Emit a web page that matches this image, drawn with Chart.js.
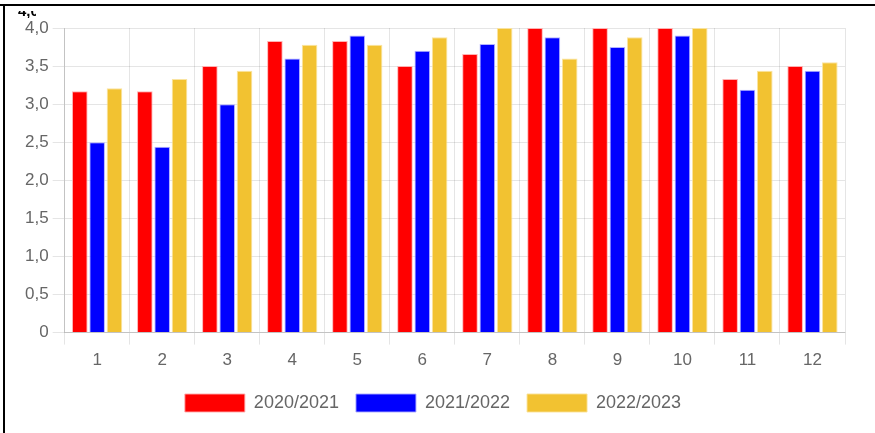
<!DOCTYPE html>
<html>
<head>
<meta charset="utf-8">
<script src="https://cdn.jsdelivr.net/npm/chart.js@4/dist/chart.umd.min.js"></script>
<style>
  html, body { margin: 0; padding: 0; background: #fff; }
  #wrap { position: relative; width: 875px; height: 433px; overflow: hidden; }
  #c { position: absolute; left: 0; top: 0; }
  #topline { position: absolute; left: 0; top: 4px; width: 875px; height: 2px; background: #000; }
  #leftline { position: absolute; left: 3px; top: 4px; width: 2px; height: 429px; background: #000; }
  #cut { position: absolute; left: 18px; top: 11px; height: 7px; width: 18px; overflow: hidden; }
  #cut span { position: absolute; left: 0; top: -10px; font: bold 15px "Liberation Sans", Arial, sans-serif; color: #000; line-height: 20px; }
</style>
</head>
<body>
<div id="wrap">
  <canvas id="c" width="875" height="433"></canvas>
  <div id="topline"></div>
  <div id="leftline"></div>
  <div id="cut"><span>4,0</span></div>
</div>
<script>
const categories = ["1","2","3","4","5","6","7","8","9","10","11","12"];
const seriesNames = ["2020/2021","2021/2022","2022/2023"];
const values2020 = [3.17, 3.17, 3.5, 3.83, 3.83, 3.5, 3.66, 4.0, 4.0, 4.0, 3.33, 3.5];
const values2021 = [2.5, 2.44, 3.0, 3.6, 3.9, 3.7, 3.79, 3.88, 3.75, 3.9, 3.19, 3.44];
const values2022 = [3.21, 3.33, 3.44, 3.78, 3.78, 3.88, 4.0, 3.6, 3.88, 4.0, 3.44, 3.55];
const colors = ["#ff0000", "#0000ff", "#f2c231"];
const borders = ["rgba(255,170,170,0.9)", "rgba(170,170,255,0.9)", "rgba(250,225,150,0.9)"];

const allValues = [values2020, values2021, values2022];
const datasets = seriesNames.map((name, i) => ({
  label: name,
  data: allValues[i],
  backgroundColor: colors[i],
  borderColor: borders[i],
  borderWidth: 1,
  categoryPercentage: 0.8,
  barPercentage: 0.9
}));

const font = { family: "'Liberation Sans', Arial, sans-serif", size: 17 };
const legendFont = { family: "'Liberation Sans', Arial, sans-serif", size: 18 };

new Chart(document.getElementById('c'), {
  type: 'bar',
  data: { labels: categories, datasets },
  options: {
    responsive: false,
    animation: false,
    layout: { padding: { left: 21, right: 30, top: 28, bottom: 11 } },
    plugins: {
      legend: {
        position: 'bottom',
        labels: { boxWidth: 60, boxHeight: 18, padding: 17, font: legendFont, color: '#666' }
      },
      tooltip: { enabled: false }
    },
    scales: {
      x: {
        grid: { color: 'rgba(0,0,0,0.1)', tickLength: 12, offset: true },
        ticks: { font, color: '#666', padding: 6 },
        border: { color: 'rgba(0,0,0,0.15)' }
      },
      y: {
        min: 0, max: 4,
        grid: { color: 'rgba(0,0,0,0.1)', tickLength: 12 },
        border: { color: 'rgba(0,0,0,0.15)' },
        ticks: {
          stepSize: 0.5, font, color: '#666', padding: 4,
          callback: v => v === 0 ? '0' : v.toFixed(1).replace('.', ',')
        }
      }
    }
  }
});
</script>
</body>
</html>
